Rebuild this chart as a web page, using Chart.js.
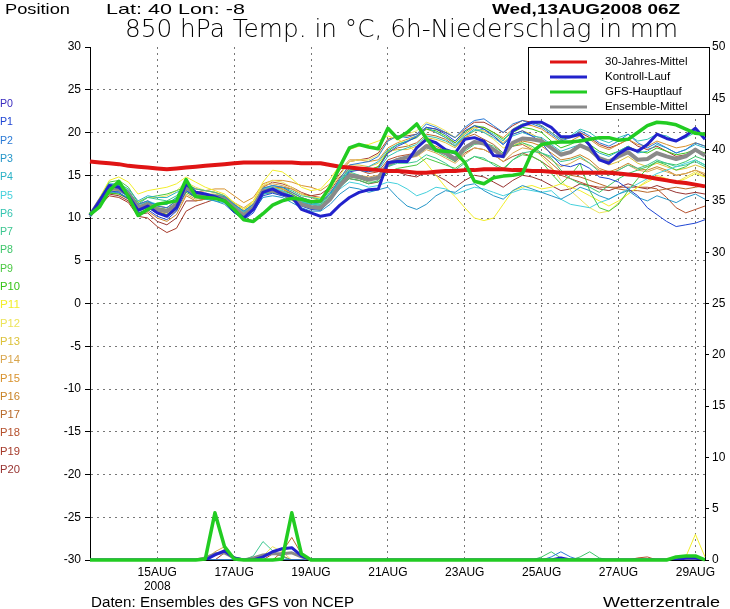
<!DOCTYPE html>
<html>
<head>
<meta charset="utf-8">
<script src="https://cdn.jsdelivr.net/npm/chart.js@4.4.0/dist/chart.umd.min.js"></script>
<style>
html, body { margin: 0; padding: 0; background: #fff; }
</style>
</head>
<body>
<canvas id="ensChart" width="730" height="609"></canvas>
<script>
// 6-hourly steps from 13AUG2008 06Z to 29AUG2008 06Z (65 steps)
const dayTicks = ["15AUG", "17AUG", "19AUG", "21AUG", "23AUG", "25AUG", "27AUG", "29AUG"];
const yearTick = "2008";

// 850 hPa temperature, degC
const climate = [
  16.6,16.5,16.4,16.3,16.1,16.0,15.9,15.8,15.7,15.8,15.9,16.0,16.1,
  16.2,16.3,16.4,16.5,16.5,16.5,16.5,16.5,16.5,16.4,16.4,16.4,16.2,
  16.0,15.9,15.8,15.7,15.6,15.5,15.5,15.4,15.3,15.3,15.4,15.5,15.5,
  15.6,15.6,15.7,15.7,15.7,15.6,15.6,15.5,15.5,15.4,15.3,15.3,15.3,
  15.3,15.3,15.3,15.2,15.1,15.0,14.8,14.6,14.4,14.2,14.1,13.9,13.7];
const control = [
  10.3,12.0,13.8,13.6,12.6,10.9,11.4,10.6,10.2,11.2,14.0,13.0,12.8,
  12.5,12.0,10.8,10.0,11.0,13.0,13.4,12.8,12.5,11.0,10.6,10.2,10.4,
  11.5,12.4,13.0,13.3,13.4,16.5,16.6,16.6,18.2,19.2,18.8,18.0,17.6,
  19.2,19.4,19.0,17.3,17.2,20.2,20.8,21.2,21.2,20.6,19.5,19.5,19.8,
  18.5,16.8,16.4,17.5,18.2,17.8,18.6,19.8,19.3,19.0,19.6,20.5,19.2];
const gfs = [
  10.4,11.3,13.2,14.3,12.5,10.3,11.0,11.6,11.8,12.0,14.5,12.5,12.4,
  12.3,12.0,11.0,9.8,9.6,10.5,11.5,12.0,12.3,12.2,11.9,12.0,13.7,
  16.0,18.2,18.6,18.3,18.1,20.5,19.3,20.0,21.0,19.3,17.9,17.8,17.7,
  16.5,14.3,14.0,14.7,14.9,15.0,15.2,17.7,18.6,18.8,18.9,18.9,19.0,
  19.2,19.4,19.4,19.1,19.2,20.0,20.8,21.2,21.1,20.9,20.4,19.9,19.8];
const ensMean = [
  10.3,12.0,13.5,13.4,12.8,11.2,11.6,11.0,10.8,11.6,13.6,12.8,12.6,
  12.5,12.2,11.2,10.3,11.2,13.2,13.2,12.9,12.3,11.6,11.3,11.2,12.2,
  13.8,15.0,14.8,14.5,14.7,16.3,16.8,17.1,17.5,18.4,18.0,17.6,16.9,
  18.2,18.9,18.7,18.0,17.2,18.8,19.3,19.2,19.0,18.2,17.4,17.7,18.5,
  18.0,17.0,16.6,17.2,17.7,16.8,16.9,17.6,17.2,16.9,17.2,18.0,17.3];

const p01 = [
  10.2,11.8,13.2,13.0,12.2,10.6,11.0,10.2,9.8,10.8,13.2,12.4,12.3,
  12.4,12.0,10.9,9.8,10.6,12.6,12.9,12.6,12.2,11.4,11.0,10.9,12.0,
  13.8,15.4,15.6,15.4,15.8,17.6,18.4,18.9,19.5,20.6,20.4,19.8,19.0,
  20.2,20.8,20.4,19.6,18.6,19.8,20.2,19.6,18.8,17.4,16.2,16.0,16.4,
  15.8,14.8,14.6,14.2,13.4,12.6,11.2,10.4,9.6,9.0,9.2,9.4,9.8];
const p02 = [
  10.3,12.2,13.9,13.8,13.1,11.6,12.0,11.4,11.2,12.0,13.9,13.1,12.8,
  12.7,12.5,11.6,10.8,11.6,13.5,13.8,13.6,13.0,12.4,12.0,11.8,12.9,
  14.6,16.2,16.4,16.6,17.2,19.0,19.6,19.4,19.8,21.0,20.6,20.0,19.4,
  20.6,21.4,21.6,20.8,20.0,21.0,21.4,21.0,20.6,19.8,19.0,19.4,20.2,
  19.6,18.8,18.4,19.0,19.8,18.8,18.2,18.8,18.2,17.6,18.0,18.8,18.4];
const p03 = [
  10.2,11.7,13.0,13.1,12.6,11.0,11.8,11.6,11.6,12.4,13.2,12.6,12.4,
  12.0,11.6,10.6,9.9,10.8,12.4,12.6,12.4,11.8,11.2,10.8,10.8,11.6,
  12.8,13.6,13.4,13.0,13.3,13.6,12.4,11.4,11.0,11.6,12.6,13.2,13.0,
  13.8,14.0,13.2,12.6,12.2,13.2,13.8,13.4,13.0,12.6,12.2,12.8,13.6,
  13.2,12.6,12.2,12.8,13.2,12.4,12.0,12.6,12.2,11.8,12.4,12.8,12.2];
const p04 = [
  10.4,12.3,14.0,14.0,13.4,12.0,12.6,12.4,12.4,13.0,13.4,12.6,12.2,
  12.0,11.8,11.0,10.4,11.0,12.8,13.0,12.6,12.2,11.8,11.6,11.8,12.8,
  14.2,15.6,15.8,16.0,16.6,18.0,18.6,19.0,19.6,20.6,20.0,19.4,18.6,
  19.6,20.4,20.0,19.4,18.6,19.6,20.0,19.6,19.4,18.6,17.8,18.2,18.6,
  18.2,17.6,17.2,17.8,18.4,17.6,17.8,18.6,18.2,17.6,18.0,18.6,18.2];
const p05 = [
  10.3,12.0,13.6,13.6,13.0,11.4,12.0,11.6,11.6,12.4,13.8,13.0,12.8,
  12.6,12.2,11.4,10.8,11.6,13.4,13.6,13.2,12.6,12.0,11.6,11.4,12.2,
  13.4,14.2,14.0,13.6,13.8,14.2,14.0,13.4,12.6,13.0,13.6,13.4,12.8,
  13.2,13.6,13.4,13.0,12.6,13.0,13.4,13.2,13.0,13.2,12.2,11.6,11.4,
  11.2,11.8,12.2,12.8,13.4,14.0,14.6,15.2,15.6,16.0,16.4,16.8,16.2];
const p06 = [
  10.1,11.6,13.1,12.9,12.4,10.9,11.3,10.5,10.2,11.0,13.2,12.6,12.6,
  12.6,12.4,11.5,10.7,11.4,13.0,13.0,12.8,12.4,11.9,11.6,11.6,12.6,
  14.4,15.8,15.6,15.4,15.6,17.2,17.8,18.2,18.6,19.6,19.4,19.0,18.4,
  19.6,20.2,20.4,19.8,19.0,20.4,21.0,21.2,20.8,20.0,19.2,19.6,20.4,
  20.0,19.2,18.8,19.4,19.8,19.0,19.2,19.8,19.6,19.0,19.4,20.0,19.4];
const p07 = [
  10.2,11.9,13.7,13.8,13.2,11.6,12.4,12.2,12.0,12.6,14.0,13.4,13.2,
  13.0,12.6,11.6,10.6,11.4,13.4,13.8,13.6,13.2,12.6,12.4,12.2,13.0,
  14.4,15.4,15.0,14.6,14.6,16.0,16.4,16.4,16.6,17.4,17.0,16.4,15.6,
  16.4,17.2,17.0,16.2,15.6,16.8,17.6,17.8,17.6,17.2,16.6,16.8,17.2,
  16.4,15.4,15.0,15.6,16.2,15.8,16.2,16.8,16.4,16.0,16.2,16.6,16.0];
const p08 = [
  10.3,12.1,13.6,13.5,12.9,11.3,11.9,11.2,11.0,11.8,13.4,12.8,12.5,
  12.4,12.1,11.0,10.1,11.0,12.9,13.1,12.8,12.2,11.5,11.1,11.0,12.0,
  13.6,14.6,14.4,14.0,14.4,16.0,16.6,17.2,17.4,18.2,17.8,17.2,16.6,
  17.8,18.6,18.8,18.4,17.6,18.4,18.8,18.4,17.6,17.0,15.6,14.6,14.0,
  13.6,13.0,13.8,14.6,15.2,15.6,16.0,16.6,16.4,16.2,16.6,17.2,16.8];
const p09 = [
  10.4,12.2,14.2,14.4,13.6,11.8,12.4,12.6,12.8,13.2,13.6,13.0,12.8,
  12.6,12.2,11.2,10.4,11.2,13.0,13.4,13.2,12.8,12.2,11.8,11.6,12.4,
  13.8,14.8,14.6,14.2,14.2,15.4,15.8,16.0,16.2,17.0,16.6,16.2,15.8,
  16.6,17.2,16.8,16.4,15.8,16.8,17.4,17.2,16.6,15.2,14.0,15.0,16.4,
  13.2,11.2,10.8,11.6,13.2,14.6,15.8,16.6,16.2,15.6,16.0,16.8,16.2];
const p10 = [
  10.2,11.6,12.9,12.8,12.3,10.8,11.2,10.6,10.4,11.2,13.0,12.4,12.4,
  12.3,12.0,11.0,10.2,11.0,12.8,13.0,12.8,12.4,11.8,11.6,11.4,12.4,
  14.0,15.6,15.6,15.6,16.0,17.8,18.6,19.0,19.4,20.4,20.2,19.6,18.8,
  20.0,20.8,20.6,20.0,19.2,20.0,20.6,20.4,20.0,19.0,18.2,18.6,19.2,
  18.6,17.8,17.4,17.8,18.4,17.8,17.6,18.2,17.8,17.4,17.6,18.0,17.6];
const p11 = [
  10.4,12.4,14.4,14.8,14.2,12.8,13.2,13.4,13.6,14.0,14.8,14.2,13.6,
  13.2,12.8,11.8,11.0,12.0,14.2,15.6,15.4,14.6,13.6,13.2,13.4,14.6,
  16.2,18.0,18.4,18.6,19.0,19.6,19.2,18.6,17.6,16.4,15.0,13.6,12.5,
  11.2,10.0,9.7,10.0,11.6,13.2,13.6,13.8,13.4,13.6,14.0,13.6,13.2,
  12.6,12.0,11.4,12.0,12.8,13.6,14.2,14.8,14.6,14.2,14.6,15.2,14.8];
const p12 = [
  10.3,12.1,13.8,13.9,13.4,11.9,12.4,12.4,12.6,13.2,14.2,13.6,13.2,
  13.0,12.6,11.6,10.8,11.8,13.8,14.4,14.2,13.6,12.8,12.4,12.4,13.4,
  15.0,16.6,16.8,16.8,17.4,19.0,19.6,19.8,20.2,21.2,20.8,20.2,19.4,
  20.2,20.6,20.0,19.2,18.2,18.6,18.8,18.2,17.2,16.0,14.4,13.2,12.2,
  11.2,10.6,10.8,11.8,12.8,13.6,14.4,15.0,14.6,14.2,14.8,15.4,14.8];
const p13 = [
  10.2,11.8,13.4,13.2,12.6,11.0,11.4,10.8,10.6,11.4,13.4,12.8,12.8,
  12.8,12.6,11.8,11.0,11.8,13.6,13.6,13.4,13.0,12.4,12.0,11.8,12.8,
  14.6,16.2,16.2,16.0,16.4,17.8,18.0,18.0,18.4,19.4,19.2,18.8,18.2,
  19.4,20.2,20.2,19.6,18.8,19.8,20.2,19.8,19.2,18.4,17.6,17.8,18.4,
  17.8,16.8,16.2,16.6,17.2,16.4,16.0,16.4,16.0,15.6,15.8,16.2,15.8];
const p14 = [
  10.3,12.0,13.4,13.2,12.6,11.2,11.4,10.6,10.2,10.8,12.8,12.2,12.4,
  12.6,12.6,11.8,11.2,12.0,13.8,14.0,13.8,13.4,12.8,12.4,12.0,12.8,
  14.2,15.2,15.0,14.8,15.0,16.4,16.8,17.0,17.2,18.0,17.6,17.0,16.4,
  17.4,18.2,18.0,17.4,16.6,17.6,18.2,18.0,17.6,16.8,16.0,16.4,17.0,
  16.4,15.6,15.2,15.6,16.2,15.6,15.4,15.8,15.4,15.0,15.2,15.6,15.2];
const p15 = [
  10.4,12.2,13.8,13.8,13.2,11.6,11.8,11.2,11.0,11.6,13.4,13.0,13.2,
  13.4,13.4,12.6,11.8,12.4,14.0,14.4,14.4,14.2,13.8,13.6,13.2,14.0,
  15.6,16.8,16.8,16.6,16.8,18.2,18.8,19.2,19.6,20.4,20.0,19.4,18.8,
  19.8,20.6,20.6,20.0,19.4,20.4,21.0,20.8,20.4,19.6,18.8,19.0,19.6,
  19.2,18.4,18.0,18.6,19.2,18.6,18.4,19.0,18.6,18.2,18.4,18.8,18.4];
const p16 = [
  10.2,11.6,13.0,12.8,12.2,10.6,10.8,10.0,9.6,10.4,12.6,12.0,12.2,
  12.4,12.4,11.6,10.8,11.6,13.4,13.6,13.4,13.0,12.4,12.0,11.8,12.6,
  14.0,15.0,14.8,14.4,14.6,16.2,16.8,17.2,17.6,18.6,18.4,17.8,17.0,
  18.2,19.0,18.8,18.2,17.4,18.4,19.0,18.8,18.4,17.6,16.8,17.0,17.4,
  16.8,15.8,15.4,15.8,16.4,15.8,15.6,16.0,15.6,15.0,15.2,15.6,15.0];
const p17 = [
  10.3,11.9,13.4,13.4,12.8,11.2,11.6,10.8,10.4,11.2,13.2,12.6,12.6,
  12.6,12.4,11.4,10.4,11.2,13.0,13.2,13.0,12.6,12.0,11.8,11.8,12.8,
  14.4,15.8,15.8,15.6,16.0,17.6,18.2,18.4,18.8,19.8,19.6,19.2,18.4,
  19.4,19.8,19.2,18.6,17.6,18.4,18.6,18.0,17.4,16.4,15.4,15.0,14.8,
  14.4,14.0,13.6,13.4,13.2,13.2,13.0,13.2,13.4,13.6,13.4,13.6,13.8];
const p18 = [
  10.2,11.7,13.2,13.4,13.0,11.6,12.0,11.4,11.2,12.0,14.0,13.4,13.2,
  13.0,12.6,11.6,10.8,11.6,13.6,14.2,14.0,13.6,13.0,12.6,12.4,13.2,
  14.8,15.8,15.6,15.2,15.4,16.8,17.2,17.4,17.6,18.4,18.0,17.4,16.6,
  17.6,18.2,18.0,17.4,16.6,17.2,17.6,17.2,16.6,15.8,15.0,14.6,14.2,
  13.8,13.6,13.6,13.6,13.6,13.6,13.6,13.4,12.4,11.2,10.6,11.0,11.4];
const p19 = [
  10.1,11.4,12.6,12.4,11.8,10.2,10.0,9.0,8.3,8.8,10.8,11.4,11.8,
  12.2,12.2,11.2,10.4,11.4,13.2,13.6,13.6,13.4,12.8,12.6,12.8,13.6,
  15.2,16.6,16.8,17.0,17.6,19.2,19.6,19.6,19.8,20.6,20.4,20.0,19.4,
  20.4,21.2,21.2,20.6,20.0,20.8,21.4,21.2,20.8,20.0,19.2,19.4,20.0,
  19.4,18.6,18.2,18.6,19.2,18.4,18.0,18.4,17.8,17.2,17.4,17.8,17.4];
const p20 = [
  10.2,11.6,12.8,12.6,12.0,10.4,10.6,9.6,9.2,10.0,12.0,12.0,12.2,
  12.4,12.4,11.6,10.8,11.6,13.4,13.6,13.4,12.8,12.0,11.6,11.4,12.2,
  13.8,14.6,14.4,14.0,14.2,15.4,15.4,15.0,14.8,15.4,15.0,14.4,13.6,
  14.4,15.0,14.8,14.2,13.6,14.4,15.0,14.8,14.4,13.8,13.2,13.4,14.0,
  13.8,13.4,13.2,13.6,14.0,13.6,13.4,13.8,13.4,13.0,12.8,13.0,12.8];

// 6h precipitation, mm (steps not listed are 0)
const gfsRain = [[12, 0.1], [13, 4.6], [14, 1.3], [15, 0.1], [20, 0.1], [21, 4.6], [22, 0.6], [61, 0.3], [62, 0.4], [63, 0.4]];
const controlRain = [[13, 0.5], [14, 0.9], [15, 0.2], [18, 0.3], [19, 0.8], [20, 1.1], [21, 1.2], [22, 0.4], [49, 0.2], [62, 0.2], [63, 0.2]];
const meanRain = [[12, 0.2], [13, 0.6], [14, 0.7], [15, 0.2], [17, 0.2], [18, 0.5], [19, 0.6], [20, 0.6], [21, 0.7], [22, 0.3]];
const memberRain = {
  1: [[61, 0.3], [62, 0.3]],
  2: [[48, 0.3], [49, 0.8], [50, 0.3]],
  7: [[17, 0.4], [18, 1.8], [19, 0.9], [20, 0.3]],
  8: [[47, 0.3], [48, 0.8], [49, 0.2], [51, 0.3], [52, 0.8], [53, 0.2]],
  11: [[62, 0.3], [63, 2.5], [64, 0.3]],
  12: [[18, 0.4], [19, 1.3], [20, 0.8]],
  14: [[13, 0.8], [14, 1.3], [15, 0.2]],
  16: [[13, 0.5], [14, 1.0]],
  17: [[20, 0.8], [21, 2.2], [22, 0.6]],
  18: [[57, 0.2], [58, 0.3]],
  19: [[14, 0.7], [15, 0.3], [19, 0.6], [20, 0.4]]
};

const memberColors = ["#3a2bbf", "#2046d4", "#2a7ad6", "#2596c8", "#2ab2c6", "#45d0dc", "#33c4b0",
  "#3cc690", "#3ec66a", "#4ac842", "#38c418", "#f2ee2c", "#ece45a", "#dcc23a", "#d9a64e",
  "#d8922e", "#c98428", "#b86a2a", "#b5502c", "#a63a2a", "#983432"];

const members = [p01, p02, p03, p04, p05, p06, p07, p08, p09, p10,
  p11, p12, p13, p14, p15, p16, p17, p18, p19, p20];

const nSteps = climate.length;
const labels = [];
for (let i = 0; i < nSteps; i++) {
  labels.push(i % 8 === 7 ? dayTicks[(i - 7) / 8] : "");
}

function rainSeries(list) {
  const out = new Array(nSteps).fill(0);
  list.forEach(([i, v]) => { out[i] = v; });
  return out;
}

const datasets = [];
members.forEach((d, k) => {
  datasets.push({ data: d, borderColor: memberColors[k + 1], borderWidth: 1, yAxisID: "y", order: 10 });
});
Object.keys(memberRain).forEach(k => {
  datasets.push({ data: rainSeries(memberRain[k]), borderColor: memberColors[k], borderWidth: 1, yAxisID: "y2", order: 10 });
});
datasets.push({ data: ensMean, borderColor: "#8a8a8a", borderWidth: 4, yAxisID: "y", order: 5 });
datasets.push({ data: rainSeries(meanRain), borderColor: "#8a8a8a", borderWidth: 3, yAxisID: "y2", order: 5 });
datasets.push({ data: control, borderColor: "#2222cc", borderWidth: 3, yAxisID: "y", order: 4 });
datasets.push({ data: rainSeries(controlRain), borderColor: "#2222cc", borderWidth: 3, yAxisID: "y2", order: 4 });
datasets.push({ data: climate, borderColor: "#e01414", borderWidth: 4, yAxisID: "y", order: 3 });
datasets.push({ data: gfs, borderColor: "#22cc22", borderWidth: 3.5, yAxisID: "y", order: 1 });
datasets.push({ data: rainSeries(gfsRain), borderColor: "#22cc22", borderWidth: 3.5, yAxisID: "y2", order: 1,
  clip: { left: 0, top: 0, right: 0, bottom: 3 } });

const legendItems = [
  ["30-Jahres-Mittel", "#e01414"],
  ["Kontroll-Lauf", "#2222cc"],
  ["GFS-Hauptlauf", "#22cc22"],
  ["Ensemble-Mittel", "#8a8a8a"]
];

function fitText(ctx, txt, x, y, w, font, color) {
  ctx.save();
  ctx.font = font;
  ctx.fillStyle = color;
  ctx.textBaseline = "alphabetic";
  ctx.textAlign = "left";
  const m = ctx.measureText(txt).width;
  ctx.translate(x, y);
  ctx.scale(w / m, 1);
  ctx.fillText(txt, 0, 0);
  ctx.restore();
}

const decor = {
  id: "decor",
  beforeDraw(chart) {
    const c = chart.ctx;
    c.save();
    c.fillStyle = "#fff";
    c.fillRect(0, 0, chart.width, chart.height);
    c.restore();
  },
  afterDraw(chart) {
    const c = chart.ctx;
    // header
    fitText(c, "Position", 5, 14, 65, "15px 'Liberation Sans'", "#000");
    fitText(c, "Lat: 40 Lon: -8", 106, 14, 139, "15px 'Liberation Sans'", "#000");
    fitText(c, "Wed,13AUG2008 06Z", 492, 14, 188, "bold 15px 'Liberation Sans'", "#000");
    fitText(c, "850 hPa Temp. in °C, 6h-Niederschlag in mm", 125, 37, 553, "200 25px 'DejaVu Sans'", "#000");
    // footer
    fitText(c, "Daten: Ensembles des GFS von NCEP", 91, 607, 263, "14px 'Liberation Sans'", "#000");
    fitText(c, "Wetterzentrale", 603, 607, 117, "15px 'Liberation Sans'", "#000");
    // member names
    for (let k = 0; k <= 20; k++) {
      const t = "P" + k;
      fitText(c, t, 0, 107 + k * 18.3, k < 10 ? 13 : 20, "11px 'Liberation Sans'", memberColors[k]);
    }
    // legend box
    c.save();
    c.fillStyle = "#fff";
    c.fillRect(528, 47, 181, 68);
    c.strokeStyle = "#000";
    c.lineWidth = 1;
    c.strokeRect(528.5, 47.5, 181, 67);
    c.font = "11.5px 'Liberation Sans'";
    c.textBaseline = "middle";
    c.textAlign = "left";
    legendItems.forEach(([txt, col], i) => {
      const y = 62 + i * 15;
      c.strokeStyle = col;
      c.lineWidth = 3;
      c.beginPath();
      c.moveTo(550, y);
      c.lineTo(587, y);
      c.stroke();
      c.fillStyle = "#000";
      c.fillText(txt, 605, y);
    });
    c.restore();
  }
};

const tickFont = { family: "'Liberation Sans'", size: 12 };

new Chart(document.getElementById("ensChart"), {
  type: "line",
  data: { labels: labels, datasets: datasets },
  options: {
    responsive: false,
    animation: false,
    devicePixelRatio: 1,
    layout: { padding: { top: 47, left: 0, right: 0, bottom: 0 } },
    elements: {
      point: { radius: 0 },
      line: { tension: 0, fill: false, borderJoinStyle: "round" }
    },
    plugins: {
      legend: { display: false },
      tooltip: { enabled: false }
    },
    scales: {
      x: {
        type: "category",
        offset: false,
        grid: {
          color: ctx => (ctx.index % 8 === 7 ? "#777" : "transparent"),
          drawTicks: false
        },
        border: { color: "#000", dash: [2, 4] },
        ticks: {
          autoSkip: false,
          maxRotation: 0,
          color: "#000",
          font: tickFont,
          padding: 5,
          callback: (v, i) => (i === 7 ? [labels[i], yearTick] : labels[i])
        },
        afterFit: s => { s.height = 49; }
      },
      y: {
        position: "left",
        min: -30,
        max: 30,
        ticks: { stepSize: 5, color: "#000", font: tickFont, padding: 4 },
        grid: {
          color: ctx => (Math.abs(ctx.tick.value) === 30 ? "transparent" : "#777"),
          tickColor: "#000",
          tickLength: 5
        },
        border: { color: "#000", dash: [2, 4] },
        afterFit: s => { s.width = 90; }
      },
      y2: {
        position: "right",
        min: 0,
        max: 50,
        ticks: { stepSize: 5, color: "#000", font: tickFont, padding: 3 },
        grid: { drawOnChartArea: false, tickColor: "#000", tickLength: 4 },
        border: { color: "#000" },
        afterFit: s => { s.width = 25; }
      }
    }
  },
  plugins: [decor]
});
</script>
</body>
</html>
